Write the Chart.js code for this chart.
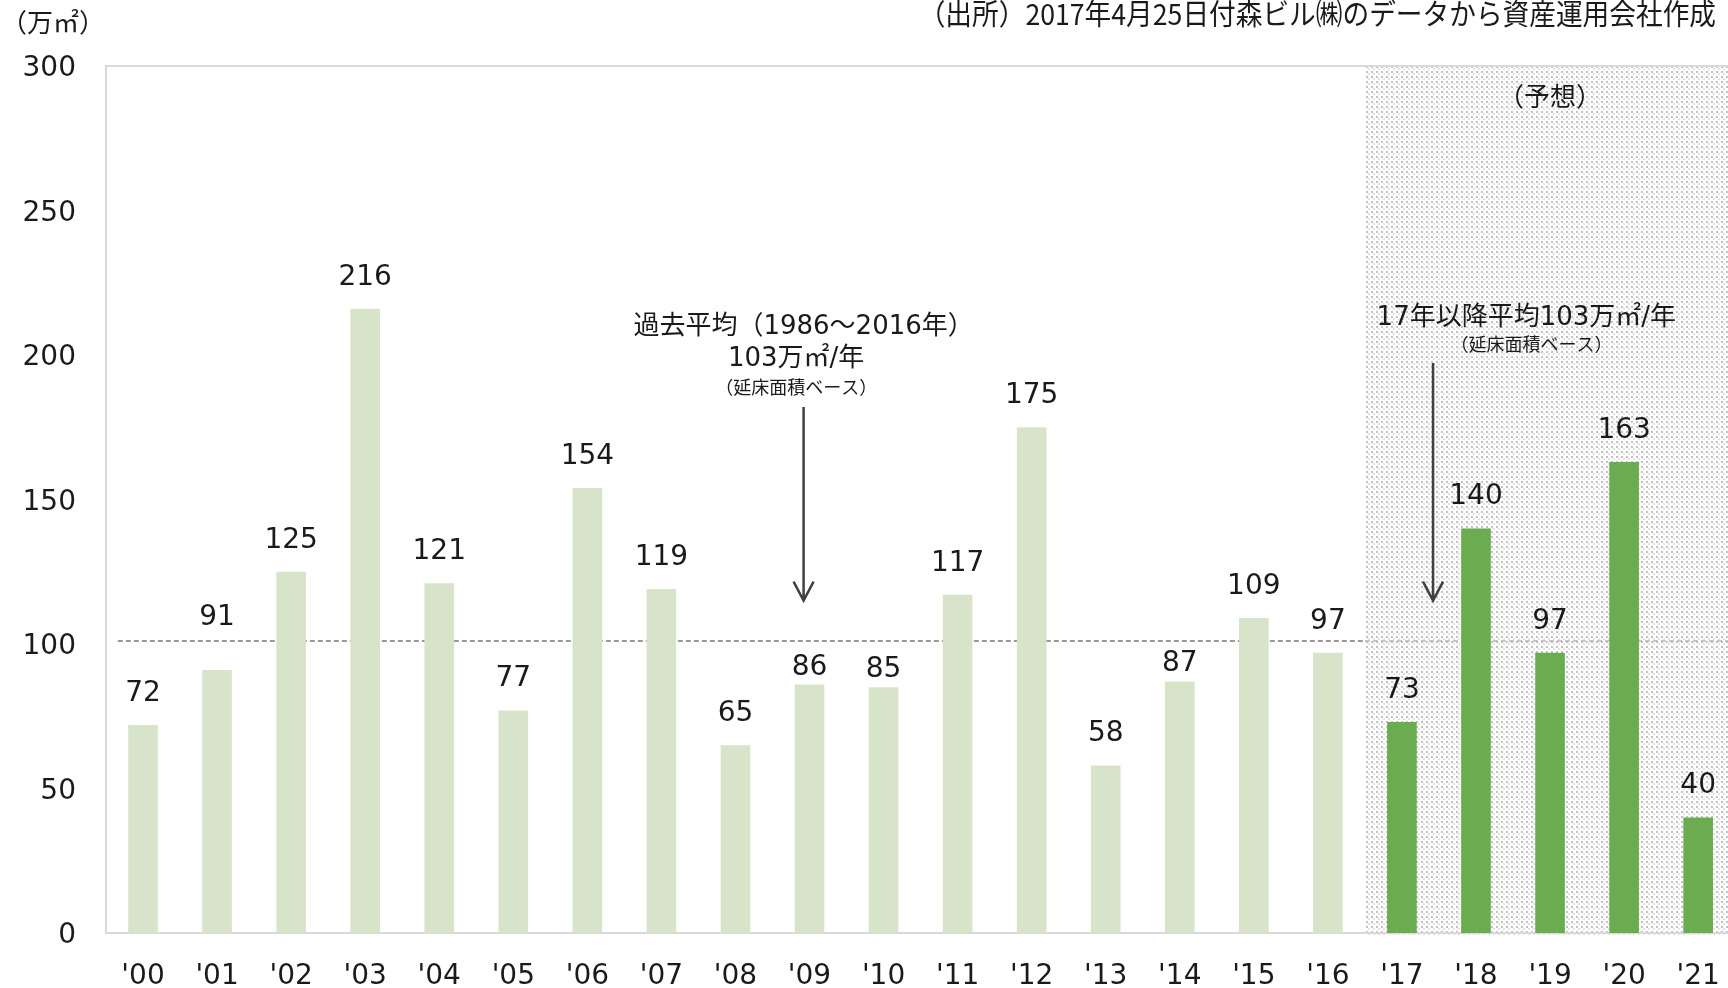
<!DOCTYPE html>
<html>
<head>
<meta charset="utf-8">
<script src="https://cdn.jsdelivr.net/npm/chart.js@4"></script>
<style>
  html, body { margin: 0; padding: 0; background: #fff; overflow: hidden; }
  #myChart { display: block; }
</style>
</head>
<body>
<canvas id="myChart" width="1747" height="988"></canvas>
<script>
// -- ** datos ** -- \\
const pastYears = ["'00", "'01", "'02", "'03", "'04", "'05", "'06", "'07", "'08", "'09", "'10", "'11", "'12", "'13", "'14", "'15", "'16"];
const pastValues = [72, 91, 125, 216, 121, 77, 154, 119, 65, 86, 85, 117, 175, 58, 87, 109, 97];
const forecastYears = ["'17", "'18", "'19", "'20", "'21"];
const forecastValues = [73, 140, 97, 163, 40];
const yTicks = [0, 50, 100, 150, 200, 250, 300];
const avgLineValue = 101;

// etiquetas movidas a mano para no pisar la linea (px)
const labelNudge = { "'01": 21, "'09": -15, "'10": -14, "'14": -13 };

const pastColor = '#d7e4c9';
const forecastColor = '#6aac4f';
const fontFamily = '"DejaVu Sans", "Noto Sans CJK JP", sans-serif';
const cjkFamily = '"Noto Sans CJK JP", sans-serif';

const labels = pastYears.concat(forecastYears);
const values = pastValues.concat(forecastValues);
const colors = pastValues.map(() => pastColor).concat(forecastValues.map(() => forecastColor));

// -- ** trama de puntos para la zona de prevision ** -- \\
function dotPattern(ctx) {
  const c = document.createElement('canvas');
  c.width = 5;
  c.height = 5;
  const p = c.getContext('2d');
  p.fillStyle = '#ffffff';
  p.fillRect(0, 0, 5, 5);
  p.fillStyle = '#c2c2c2';
  p.fillRect(1, 1, 2, 2);
  p.fillStyle = '#e4e4e4';
  p.fillRect(3, 3, 2, 2);
  return ctx.createPattern(c, 'repeat');
}

function arrow(ctx, x, y1, y2) {
  ctx.beginPath();
  ctx.moveTo(x, y1);
  ctx.lineTo(x, y2);
  ctx.moveTo(x - 10, y2 - 19);
  ctx.lineTo(x, y2);
  ctx.lineTo(x + 10, y2 - 19);
  ctx.stroke();
}

const decor = {
  id: 'decor',
  beforeDatasetsDraw(chart) {
    const { ctx, chartArea: a, scales: { x, y } } = chart;
    const fx = x.getPixelForValue(pastYears.length - 0.5);
    ctx.save();
    ctx.fillStyle = dotPattern(ctx);
    ctx.fillRect(fx, a.top + 1, a.right - fx, a.bottom - a.top + 2);

    // linea promedio
    const ly = y.getPixelForValue(avgLineValue);
    ctx.lineWidth = 1.5;
    ctx.setLineDash([5, 3]);
    ctx.strokeStyle = '#7a7a7a';
    ctx.beginPath();
    ctx.moveTo(x.getPixelForValue(-0.34), ly);
    ctx.lineTo(fx, ly);
    ctx.stroke();
    ctx.strokeStyle = '#b4b4b4';
    ctx.beginPath();
    ctx.moveTo(fx, ly);
    ctx.lineTo(a.right, ly);
    ctx.stroke();

    // marco
    ctx.setLineDash([]);
    ctx.strokeStyle = '#d9d9d9';
    ctx.lineWidth = 2;
    ctx.beginPath();
    ctx.moveTo(a.right, a.top);
    ctx.lineTo(a.left, a.top);
    ctx.lineTo(a.left, a.bottom);
    ctx.lineTo(a.right, a.bottom);
    ctx.stroke();
    ctx.restore();
  },
  afterDatasetsDraw(chart) {
    const { ctx, scales: { x, y } } = chart;
    const meta = chart.getDatasetMeta(0);
    ctx.save();
    ctx.fillStyle = '#1a1a1a';
    ctx.textAlign = 'center';
    ctx.textBaseline = 'alphabetic';
    ctx.font = '28px ' + fontFamily;
    meta.data.forEach((bar, i) => {
      const nudge = labelNudge[labels[i]] || 0;
      ctx.fillText(String(values[i]), bar.x, bar.y - 24 - nudge);
    });

    // anotaciones
    ctx.textBaseline = 'middle';
    ctx.font = '26px ' + fontFamily;
    ctx.fillText('過去平均（1986～2016年）', x.getPixelForValue(8.92), y.getPixelForValue(209.7));
    ctx.fillText('103万㎡/年', x.getPixelForValue(8.82), y.getPixelForValue(198.5));
    ctx.font = '18px ' + cjkFamily;
    ctx.fillText('（延床面積ベース）', x.getPixelForValue(8.82), y.getPixelForValue(188.8));

    ctx.font = '26px ' + fontFamily;
    ctx.fillText('17年以降平均103万㎡/年', x.getPixelForValue(18.68), y.getPixelForValue(212.8));
    ctx.font = '18px ' + cjkFamily;
    ctx.fillText('（延床面積ベース）', x.getPixelForValue(18.75), y.getPixelForValue(203.7));

    ctx.font = '26px ' + cjkFamily;
    ctx.fillText('（予想）', x.getPixelForValue(19.0), y.getPixelForValue(289.6));

    ctx.strokeStyle = '#404040';
    ctx.lineWidth = 2.5;
    arrow(ctx, x.getPixelForValue(8.92), y.getPixelForValue(182), y.getPixelForValue(115));
    arrow(ctx, x.getPixelForValue(17.42), y.getPixelForValue(197.2), y.getPixelForValue(115));

    // unidad y fuente
    ctx.textAlign = 'left';
    ctx.font = '26px ' + cjkFamily;
    ctx.fillText('（万㎡）', 1, 22);

    ctx.textAlign = 'right';
    ctx.font = '29px ' + cjkFamily;
    ctx.translate(1716, 14);
    ctx.scale(0.92, 1);
    ctx.fillText('（出所）2017年4月25日付森ビル㈱のデータから資産運用会社作成', 0, 0);
    ctx.restore();
  }
};

Chart.defaults.font.family = fontFamily;
Chart.defaults.color = '#1a1a1a';

const myChart = new Chart(document.getElementById('myChart'), {
  type: 'bar',
  data: {
    labels: labels,
    datasets: [{
      data: values,
      backgroundColor: colors,
      categoryPercentage: 1,
      barPercentage: 0.4
    }]
  },
  options: {
    responsive: false,
    devicePixelRatio: 1,
    animation: false,
    layout: { padding: { top: 66, right: 8, left: 0, bottom: 0 } },
    plugins: { legend: { display: false }, tooltip: { enabled: false } },
    scales: {
      x: {
        grid: { display: false, drawTicks: false },
        border: { display: false },
        ticks: { font: { size: 28 }, padding: 27, maxRotation: 0, autoSkip: false },
        afterFit(scale) { scale.height = 55; }
      },
      y: {
        min: 0,
        max: 300,
        grid: { display: false, drawTicks: false },
        border: { display: false },
        afterBuildTicks(scale) { scale.ticks = yTicks.map(v => ({ value: v })); },
        ticks: { font: { size: 28 }, padding: 30, labelOffset: 3 },
        afterFit(scale) { scale.width = 106; }
      }
    }
  },
  plugins: [decor]
});
</script>
</body>
</html>
